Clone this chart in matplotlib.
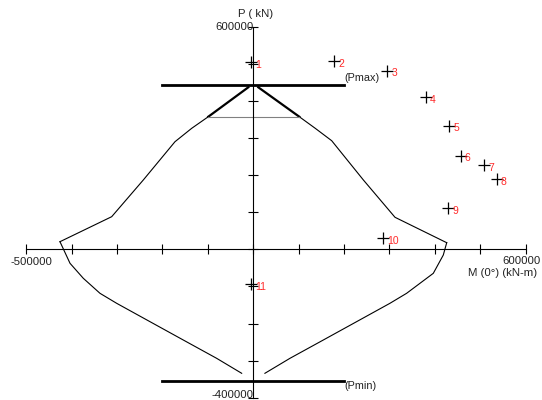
import matplotlib
matplotlib.use("Agg")
import matplotlib.pyplot as plt
import numpy as np

plt.rcParams['font.family'] = ['Liberation Sans', 'DejaVu Sans']

# interaction curve, left half (M in kN-m, P in kN)
left_top_M = [-11000, -99100]
left_top_P = [436700, 357400]
left_upper_M = [-99100, -135700, -172500, -242300, -311900, -425800]
left_upper_P = [357400, 326100, 290000, 186800, 87900, 20500]
left_lower_M = [-425800, -403700, -374400, -337700, -300900, -227500, -154200, -80800, -25600]
left_lower_P = [20500, -37700, -78200, -118600, -145600, -195100, -244500, -293800, -334200]

# interaction curve, right half
right_top_M = [11000, 101300]
right_top_P = [436700, 357400]
right_upper_M = [101300, 136500, 172700, 242500, 312100, 426000]
right_upper_P = [357400, 326100, 292700, 186800, 86300, 17800]
right_lower_M = [426000, 418500, 396500, 337700, 300900, 227500, 154200, 80800, 25600]
right_lower_P = [17800, -15400, -64700, -118600, -145600, -195100, -244500, -293800, -334200]

p_max = 443000
p_min = -355000
cap_M = [-200000, 200000]
cap_line_P = 356000

# load points
point_ids = ['1', '2', '3', '4', '5', '6', '7', '8', '9', '10', '11']
point_M = [-4000, 178400, 295200, 379700, 431700, 456800, 508800, 536100, 429500, 286300, -6000]
point_P = [505600, 507500, 481400, 409700, 333200, 252300, 227200, 189500, 110500, 29600, -94300]

x_ticks = np.arange(-500000, 600001, 100000)
y_ticks = np.arange(-400000, 600001, 100000)

fig = plt.figure(figsize=(5.42, 4.0), dpi=100)
ax = fig.add_axes([0, 0, 1, 1])
ax.set_xlim(-557900, 635900)
ax.set_ylim(-406200, 672000)

txt = '#222222'
for s in ['top', 'right']:
    ax.spines[s].set_visible(False)
ax.spines['left'].set_position(('data', 0))
ax.spines['bottom'].set_position(('data', 0))
ax.spines['left'].set_bounds(-400000, 600000)
ax.spines['bottom'].set_bounds(-500000, 600000)
ax.set_xticks(x_ticks)
ax.set_yticks(y_ticks)
ax.set_xticklabels([])
ax.set_yticklabels([])
ax.tick_params(direction='inout', length=6.5, width=0.8)

# curve
ax.plot(left_top_M, left_top_P, color='black', lw=1.6)
ax.plot(right_top_M, right_top_P, color='black', lw=1.6)
for m, p in [(left_upper_M, left_upper_P), (left_lower_M, left_lower_P),
             (right_upper_M, right_upper_P), (right_lower_M, right_lower_P)]:
    ax.plot(m, p, color='black', lw=0.8)
ax.plot([left_top_M[-1], right_top_M[-1]], [cap_line_P, cap_line_P], color='#808080', lw=0.8)

ax.plot(cap_M, [p_max, p_max], color='black', lw=2.0)
ax.plot(cap_M, [p_min, p_min], color='black', lw=2.0)
ax.text(cap_M[1], p_max + 20000, '(Pmax)', fontsize=7.8, color=txt, ha='left', va='center')
ax.text(cap_M[1], p_min - 13000, '(Pmin)', fontsize=7.8, color=txt, ha='left', va='center')

# points
ax.plot(point_M, point_P, linestyle='none', marker='+', markersize=9, mew=0.9, color='black')
for lab, m, p in zip(point_ids, point_M, point_P):
    ax.annotate(lab, (m, p), xytext=(3, -2), textcoords='offset points',
                color='#ff2a2a', fontsize=7.5, ha='left', va='center')

# axis labels
ax.text(6000, 634200, 'P ( kN)', fontsize=8.2, color=txt, ha='center', va='center')
ax.text(0, 600000, '600000', fontsize=8.2, color=txt, ha='right', va='center')
ax.text(0, -392000, '-400000', fontsize=8.2, color=txt, ha='right', va='center')
ax.text(-489600, -33400, '-500000', fontsize=8.2, color=txt, ha='center', va='center')
ax.text(633000, -30700, '600000', fontsize=8.2, color=txt, ha='right', va='center')
ax.text(625000, -63900, 'M (0°) (kN-m)', fontsize=8.2, color=txt, ha='right', va='center')

fig.savefig('out.png', dpi=100)
